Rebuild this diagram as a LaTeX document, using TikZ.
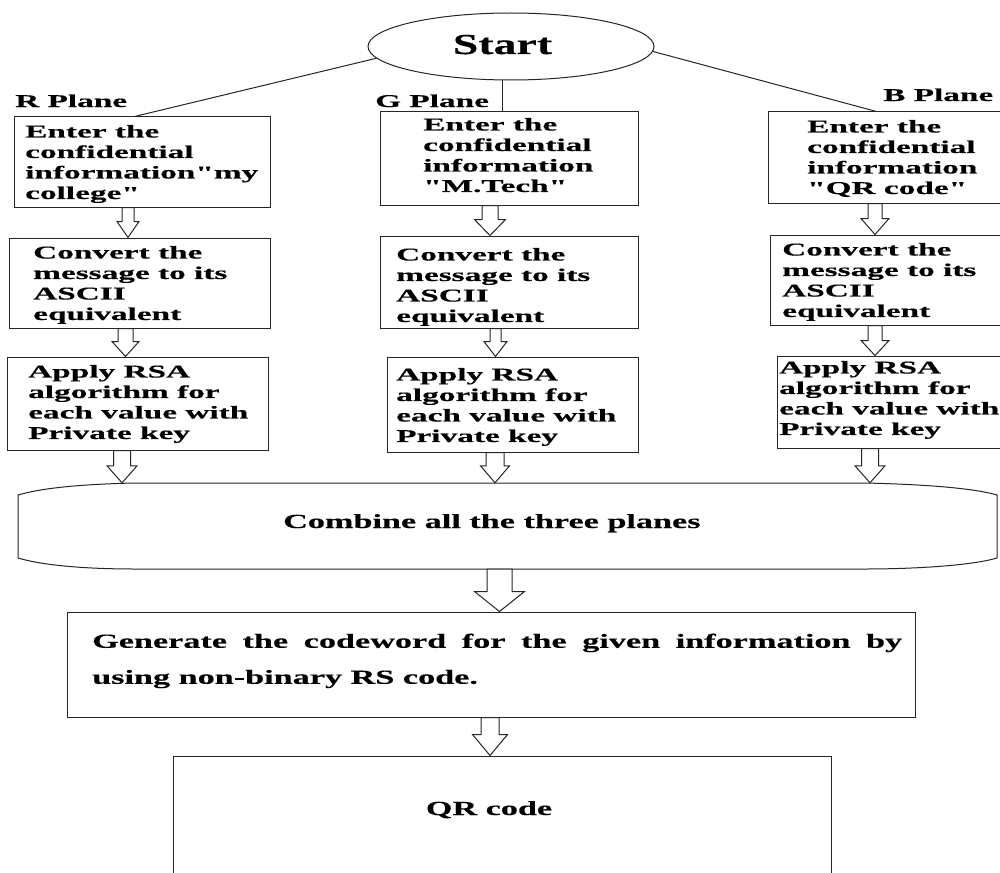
\documentclass[tikz,border=0pt]{standalone}
\usepackage{fontspec}
\usetikzlibrary{shapes.geometric,calc,fit}
\newfontfamily\boxfont[FakeStretch=1.85,FakeBold=0.3]{Liberation Serif}
\newfontfamily\bigfont[FakeStretch=1.71,FakeBold=0.3]{Liberation Serif}
\newfontfamily\startfont[FakeStretch=1.58,FakeBold=0.3]{Liberation Serif}
\tikzset{
 ln/.style={line width=1pt, draw=black!85},
 boxn/.style={ln, rectangle, inner sep=0pt},
 btxt/.style={anchor=north west, inner sep=0pt, align=left, font=\boxfont\bfseries\fontsize{18}{20.5}\selectfont},
 plab/.style={anchor=base west, inner sep=0pt, font=\boxfont\bfseries\fontsize{18}{20.5}\selectfont},
 bigtxt/.style={inner sep=0pt, font=\bigfont\bfseries\fontsize{20}{36}\selectfont},
 arrline/.style={line width=1pt, draw=black!85, fill=white, line join=miter},
}
\newcommand{\blockarrow}[6]{%
 \draw[arrline] let \p1=(#2.south), \p2=(#3.north) in
  (#1pt-#4pt,\y1) -- (#1pt+#4pt,\y1) -- (#1pt+#4pt,\y2+#6pt) -- (#1pt+#5pt,\y2+#6pt)
  -- (#1pt,\y2) -- (#1pt-#5pt,\y2+#6pt) -- (#1pt-#4pt,\y2+#6pt) -- cycle;}
\begin{document}
\begin{tikzpicture}[x=1pt,y=-1pt]
\useasboundingbox (0,0) rectangle (1000,872);
\clip (0,0) rectangle (1000,872);
\fill[white] (0,0) rectangle (1000,872);

% start
\node[ln, ellipse, minimum width=286pt, minimum height=67pt, inner sep=0pt] (start) at (511,46.5) {};
\node[anchor=base, inner sep=0pt, font=\startfont\bfseries\fontsize{29}{32}\selectfont] (starttxt) at (502.5,54) {Start};

% boxes
\node[boxn, fit={(14,117) (270,207)}] (r1) {};
\node[boxn, fit={(380,112) (638,205)}] (g1) {};
\node[boxn, fit={(768,112) (1010,203)}] (b1) {};
\node[boxn, fit={(9,238) (270,328)}] (r2) {};
\node[boxn, fit={(380,236) (638,328)}] (g2) {};
\node[boxn, fit={(770,235) (1010,325)}] (b2) {};
\node[boxn, fit={(7,357) (268,450)}] (r3) {};
\node[boxn, fit={(387,357) (638,452)}] (g3) {};
\node[boxn, fit={(777,356) (1010,448)}] (b3) {};
\node[boxn, fit={(67,612) (915,717)}] (gen) {};
\node[boxn, fit={(173,756) (831,900)}] (qr) {};

% combine shape
\node[inner sep=0pt, fit={(18,483) (997,569)}] (comb) {};
\draw[ln] (18,495) .. controls (45,487) and (90,484) .. (135,483) -- (865,483)
  .. controls (910,484) and (970,487) .. (997,495) -- (997,558)
  .. controls (970,566) and (910,569) .. (865,569) -- (135,569)
  .. controls (90,569) and (45,566) .. (18,558) -- cycle;

% plane labels
\node[plab] (rlab) at (15,107) {R Plane};
\node[plab] (glab) at (375,107) {G Plane};
\node[plab] (blab) at (883,101) {B Plane};

% box texts
\node[btxt] (r1t) at (25,124.8) {Enter the\\confidential\\information"my\\college"};
\node[btxt] (g1t) at (423,117.8) {Enter the\\confidential\\information\\"M.Tech"};
\node[btxt] (b1t) at (807,119.8) {Enter the\\confidential\\information\\"QR code"};
\node[btxt] (r2t) at (33,245.8) {Convert the\\message to its\\ASCII\\equivalent};
\node[btxt] (g2t) at (396,247.8) {Convert the\\message to its\\ASCII\\equivalent};
\node[btxt] (b2t) at (782,242.8) {Convert the\\message to its\\ASCII\\equivalent};
\node[btxt] (r3t) at (28,364.8) {Apply RSA\\algorithm for\\each value with\\Private key};
\node[btxt] (g3t) at (396,367.8) {Apply RSA\\algorithm for\\each value with\\Private key};
\node[btxt] (b3t) at (779,360.8) {Apply RSA\\algorithm for\\each value with\\Private key};

\node[bigtxt, anchor=base west] (combtxt) at (283,528) {Combine all the three planes};
\node[bigtxt, anchor=north west, align=left] (gentxt) at (92,633.5)
  {\makebox[810pt][s]{Generate the codeword for the given information by}\\using non-binary RS code.};
\node[bigtxt, anchor=base] (qrtxt) at (489,815) {QR code};

% connectors from start
\draw[ln] (start.185) -- ([xshift=121pt]r1.north west);
\draw[ln] (start.256.5) -- (start.256.5 |- g1.north);
\draw[ln] (start.358) -- ([xshift=109pt]b1.north west);

% block arrows
\blockarrow{128}{r1}{r2}{6}{11}{16}
\blockarrow{125.5}{r2}{r3}{7.5}{13.5}{15}
\blockarrow{122}{r3}{comb}{8.5}{15}{17}
\blockarrow{490}{g1}{g2}{8}{15.5}{16}
\blockarrow{495.5}{g2}{g3}{5.5}{11.5}{15}
\blockarrow{495}{g3}{comb}{9}{14.5}{17}
\blockarrow{875}{b1}{b2}{7}{14}{16}
\blockarrow{875}{b2}{b3}{7}{14}{15}
\blockarrow{870}{b3}{comb}{8.5}{15}{17}
\blockarrow{499.5}{comb}{gen}{12.5}{25}{20}
\blockarrow{490}{gen}{qr}{9}{17.5}{21}
\end{tikzpicture}
\end{document}
